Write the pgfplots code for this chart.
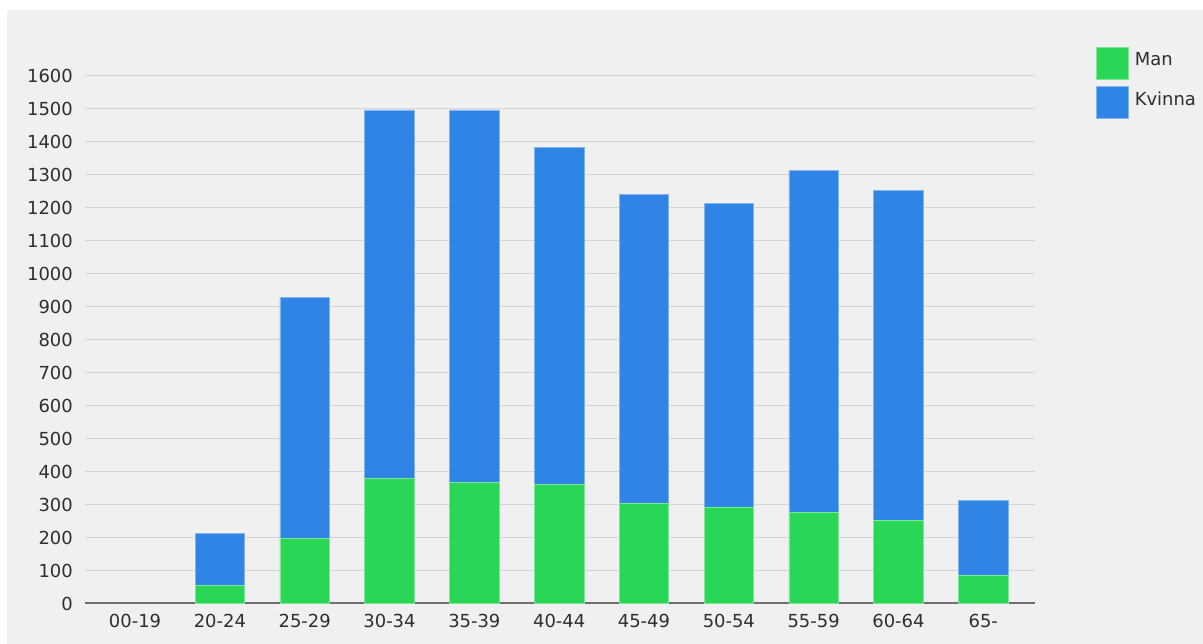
\documentclass[border=0pt]{standalone}
\usepackage{pgfplots}
\pgfplotsset{compat=1.18}
\usepackage{fontspec}
\setmainfont{DejaVu Sans}
\definecolor{bg}{HTML}{F0F0F0}
\definecolor{gridc}{HTML}{D4D4D4}
\definecolor{man}{HTML}{29D655}
\definecolor{kv}{HTML}{3084E5}
\definecolor{txt}{HTML}{2E2E2E}
\definecolor{basec}{HTML}{6E6E6E}
\begin{document}
\begin{tikzpicture}[x=1bp,y=1bp]
\fill[white] (0,0) rectangle (1203,-644);
\fill[bg] (7,-10) rectangle (1203,-644);
\begin{axis}[
  at={(85bp,-603.5bp)}, anchor=south west,
  scale only axis, width=950bp, height=528bp,
  xmin=-0.59, xmax=10.61, ymin=0, ymax=1600,
  ybar stacked, bar width=49.5bp,
  xtick={0,...,10},
  xticklabels={00-19,20-24,25-29,30-34,35-39,40-44,45-49,50-54,55-59,60-64,65-},
  ytick={0,100,...,1600},
  ymajorgrids, grid style={gridc, line width=1.6bp},
  axis line style={draw=none},
  major tick length=0pt,
  tick label style={font=\fontsize{18}{21}\selectfont, text=txt},
  yticklabel style={anchor=east, inner sep=0pt, xshift=-12bp},
  xticklabel style={anchor=north, inner sep=0pt, yshift=-10bp},
  /pgf/number format/assume math mode=true,
  /pgf/number format/1000 sep={},
  legend style={at={(1.0642,1.0549)}, anchor=north west, draw=none, fill=none,
    inner sep=0pt, row sep=7bp, font=\fontsize{18}{21}\selectfont, text=txt,
    nodes={inner sep=0pt},
    /tikz/every odd column/.append style={column sep=6bp}},
  legend cell align=left,
  legend image code/.code={\fill[#1] (0bp,-19bp) rectangle (32bp,13bp);},
]
\addplot[fill=man, draw=man!60!white, line width=0.6bp] coordinates {
(0,0) (1,55) (2,197) (3,378) (4,367) (5,361) (6,303) (7,293) (8,276) (9,251) (10,85)};
\addlegendentry{Man}
\addplot[fill=kv, draw=kv!60!white, line width=0.6bp] coordinates {
(0,0) (1,157) (2,730) (3,1118) (4,1129) (5,1021) (6,937) (7,920) (8,1037) (9,1000) (10,227)};
\addlegendentry{Kvinna}
\draw[basec, line width=2.5bp] (rel axis cs:0,0) -- (rel axis cs:1,0);
\end{axis}
\pgfresetboundingbox
\path[use as bounding box] (0,0) rectangle (1203,-644);
\end{tikzpicture}
\end{document}
